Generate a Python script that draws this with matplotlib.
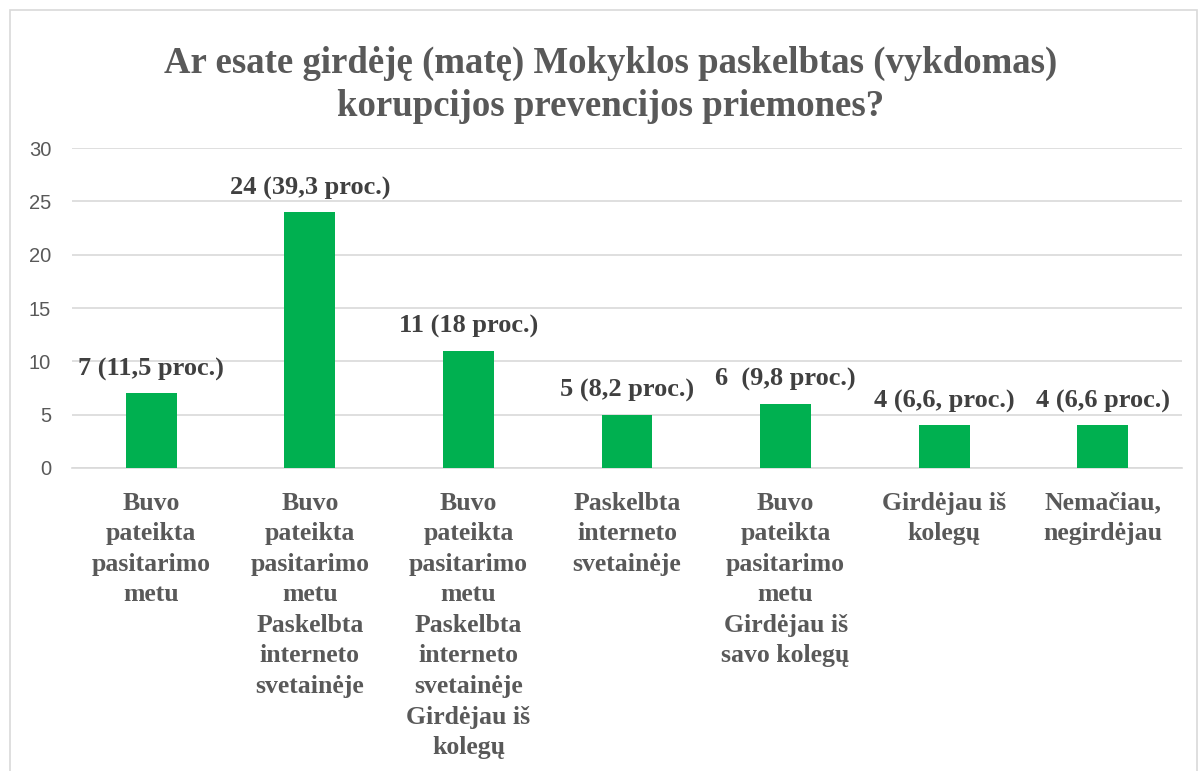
import matplotlib.pyplot as plt
from matplotlib.patches import Rectangle

categories = [
    "Buvo\npateikta\npasitarimo\nmetu",
    "Buvo\npateikta\npasitarimo\nmetu\nPaskelbta\ninterneto\nsvetainėje",
    "Buvo\npateikta\npasitarimo\nmetu\nPaskelbta\ninterneto\nsvetainėje\nGirdėjau iš\nkolegų",
    "Paskelbta\ninterneto\nsvetainėje",
    "Buvo\npateikta\npasitarimo\nmetu\nGirdėjau iš\nsavo kolegų",
    "Girdėjau iš\nkolegų",
    "Nemačiau,\nnegirdėjau",
]
counts = [7, 24, 11, 5, 6, 4, 4]
bar_labels = ["7 (11,5 proc.)", "24 (39,3 proc.)", "11 (18 proc.)", "5 (8,2 proc.)",
              "6  (9,8 proc.)", "4 (6,6, proc.)", "4 (6,6 proc.)"]
yticks = [0, 5, 10, 15, 20, 25, 30]
title = "Ar esate girdėję (matę) Mokyklos paskelbtas (vykdomas)\nkorupcijos prevencijos priemones?"

W, H = 1202, 771
fig = plt.figure(figsize=(W / 100, H / 100), dpi=100)

# chart frame
fig.patches.append(Rectangle((10 / W, -0.1), 1187 / W, 1.1 - 10 / H, transform=fig.transFigure,
                             fill=False, edgecolor="#D9D9D9", linewidth=1.2))

ax = fig.add_axes([72 / W, 1 - 468 / H, 1110 / W, 320 / H])
x = list(range(len(counts)))
bars = ax.bar(x, counts, width=0.32, color="#00B050", zorder=3)
ax.bar_label(bars, labels=bar_labels, padding=9, fontsize=19, fontweight="bold",
             family="Liberation Serif", color="#404040")

ax.set_xlim(-0.5, len(counts) - 0.5)
ax.set_ylim(0, 30)
ax.set_yticks(yticks)
ax.grid(axis="y", color="#D9D9D9", linewidth=1.2, zorder=0)
for s in ["top", "right", "left"]:
    ax.spines[s].set_visible(False)
ax.spines["bottom"].set_color("#D9D9D9")
ax.spines["bottom"].set_linewidth(1.2)
ax.tick_params(axis="y", length=0, pad=15, labelsize=14.5, labelcolor="#595959")
ax.tick_params(axis="x", length=0, pad=17)
ax.set_xticks(x)
ax.set_xticklabels(categories, fontsize=18.5, fontweight="bold", family="Liberation Serif",
                   color="#595959", linespacing=1.42, va="top")
for t in ax.get_yticklabels():
    t.set_family("Liberation Sans")

fig.text(611 / W, 1 - 85 / H, title, ha="center", va="center", fontsize=26.5, fontweight="bold",
         family="Liberation Serif", color="#595959", linespacing=1.3)

fig.savefig("out.png", dpi=100)
